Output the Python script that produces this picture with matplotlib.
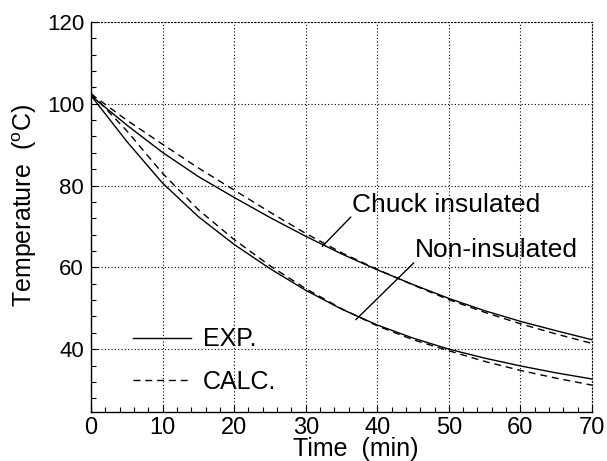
import matplotlib
matplotlib.use("Agg")
import matplotlib.pyplot as plt
from matplotlib.lines import Line2D
from matplotlib.ticker import MultipleLocator

plt.rcParams['font.family'] = ['Liberation Sans', 'DejaVu Sans']
plt.rcParams['mathtext.fontset'] = 'custom'
plt.rcParams['mathtext.rm'] = 'Liberation Sans'

# ---- data ----
time_min = [0, 5, 10, 15, 20, 25, 30, 35, 40, 45, 50, 55, 60, 65, 70]

chuck_exp = [102.0, 94.8, 88.1, 82.2, 77.1, 72.2, 67.6, 63.3, 59.4, 55.8,
             52.4, 49.4, 46.8, 44.5, 42.3]
chuck_calc = [102.4, 96.0, 90.1, 84.3, 78.9, 73.5, 68.3, 63.6, 59.5, 55.7,
              52.1, 49.0, 46.2, 43.7, 41.4]
non_exp = [102.0, 90.8, 80.6, 72.4, 65.6, 59.7, 54.4, 49.8, 45.9, 42.7,
           40.0, 37.8, 35.9, 34.2, 32.7]
non_calc = [102.6, 93.4, 83.0, 74.1, 66.8, 60.4, 54.8, 49.9, 45.7, 42.3,
            39.6, 37.0, 34.8, 32.9, 31.2]

x_ticks = [0, 10, 20, 30, 40, 50, 60, 70]
y_ticks = [40, 60, 80, 100, 120]

label_chuck = "Chuck insulated"
label_non = "Non-insulated"
legend_labels = ["EXP.", "CALC."]

# annotation anchors: (text position, leader start, leader end)
chuck_text = (36.5, 75.2)
chuck_leader = ((36.3, 72.3), (32.3, 65.1))
non_text = (45.3, 64.2)
non_leader = ((45.1, 61.1), (37.0, 47.2))

# ---- figure ----
fig = plt.figure(figsize=(6.07, 4.61), dpi=100)
ax = fig.add_axes([0.1499, 0.1069, 0.8254, 0.8454])

dash = (0, (5, 3.5))
lw = 1.0
ax.plot(time_min, chuck_exp, color='black', lw=lw, ls='-')
ax.plot(time_min, chuck_calc, color='black', lw=lw, ls=dash)
ax.plot(time_min, non_exp, color='black', lw=lw, ls='-')
ax.plot(time_min, non_calc, color='black', lw=lw, ls=dash)

ax.set_xlim(0, 70)
ax.set_ylim(24.7, 120)
ax.set_xticks(x_ticks)
ax.set_yticks(y_ticks)
ax.xaxis.set_minor_locator(MultipleLocator(2))
ax.yaxis.set_minor_locator(MultipleLocator(4))
ax.tick_params(axis='both', which='both', direction='in', top=False, right=False,
               width=0.8, color='black')
ax.tick_params(axis='both', which='major', length=5)
ax.tick_params(axis='both', which='minor', length=3.5)
ax.tick_params(axis='x', labelsize=17, pad=4)
ax.tick_params(axis='y', labelsize=16, pad=5)

ax.grid(True, which='major', color='black', lw=0.8, ls=(0, (1, 2)))
for s in ['left', 'bottom']:
    ax.spines[s].set_linewidth(1.0)
for s in ['top', 'right']:
    ax.spines[s].set_linestyle((0, (1, 2)))
    ax.spines[s].set_linewidth(0.8)

ax.set_xlabel("Time  (min)", fontsize=18)
ax.set_ylabel("Temperature  ($^{\\rm o}$C)", fontsize=18)
ax.xaxis.set_label_coords(0.529, -0.065)
ax.yaxis.set_label_coords(-0.104, 0.528)

ax.text(chuck_text[0], chuck_text[1], label_chuck, fontsize=19, va='center', ha='left')
ax.text(non_text[0], non_text[1], label_non, fontsize=19, va='center', ha='left')
for (start, end) in (chuck_leader, non_leader):
    ax.annotate('', xy=end, xytext=start,
                arrowprops=dict(arrowstyle='-', color='black', lw=1.0,
                                shrinkA=0, shrinkB=0))

handles = [Line2D([], [], color='black', lw=lw, ls='-'),
           Line2D([], [], color='black', lw=lw, ls=dash)]
ax.legend(handles, legend_labels, loc='lower left', bbox_to_anchor=(0.084, 0.045),
          frameon=False, fontsize=18, handlelength=2.3, handletextpad=0.5,
          labelspacing=0.75, borderpad=0, borderaxespad=0)

fig.savefig("out.png", dpi=100)
